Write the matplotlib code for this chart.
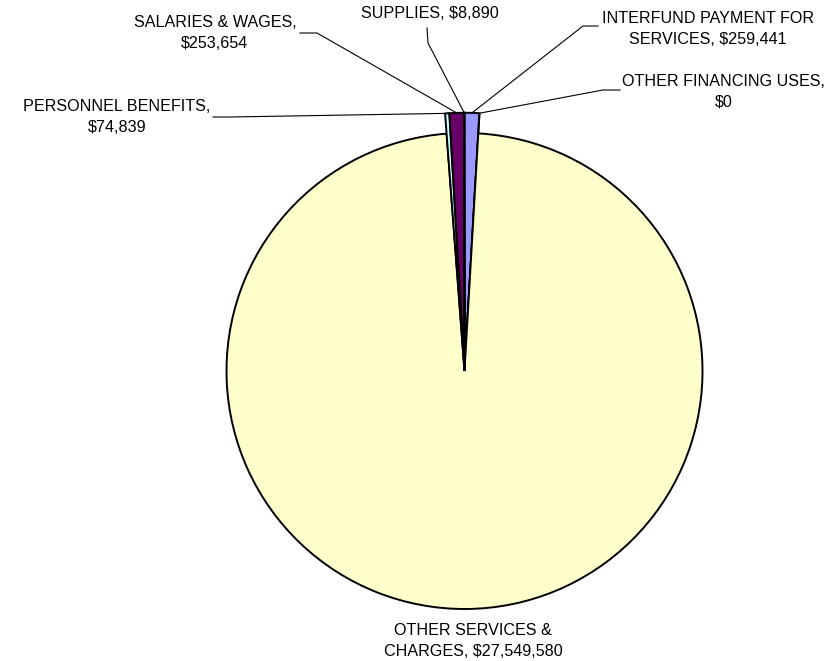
import matplotlib
matplotlib.use("Agg")
import matplotlib.pyplot as plt
import numpy as np

plt.rcParams['font.family'] = ['Liberation Sans', 'DejaVu Sans']

# Data (clockwise from 12 o'clock)
categories = ["INTERFUND PAYMENT FOR\nSERVICES", "OTHER FINANCING USES,\n", "OTHER SERVICES &\nCHARGES",
              "PERSONNEL BENEFITS,\n", "SALARIES & WAGES,\n", "SUPPLIES"]
values = [259441, 0, 27549580, 74839, 253654, 8890]
colors = ["#9999FF", "#993366", "#FFFFCC", "#CCFFFF", "#660066", "#FF8080"]

W, H = 836, 661
CX, CY, R = 464.5, 371, 238

def px(x, y):
    return ((x - CX) / R, (CY - y) / R)

fig = plt.figure(figsize=(W / 100, H / 100), dpi=100)
ax = fig.add_axes([0, 0, 1, 1])
wedges, _ = ax.pie(values, colors=colors, startangle=90, counterclock=False,
                   wedgeprops=dict(edgecolor="black", linewidth=1.4))
big = int(np.argmax(values))
for i, w in enumerate(wedges):
    if i != big:
        w.set_radius(1.085)

ax.set_xlim(-CX / R, (W - CX) / R)
ax.set_ylim(-(H - CY) / R, CY / R)
ax.set_aspect('equal')
ax.axis('off')

def money(v):
    return "${:,}".format(v)

label_text = [
    "INTERFUND PAYMENT FOR\nSERVICES, " + money(values[0]),
    "OTHER FINANCING USES,\n" + money(values[1]),
    "OTHER SERVICES &\nCHARGES, " + money(values[2]),
    "PERSONNEL BENEFITS,\n" + money(values[3]),
    "SALARIES & WAGES,\n" + money(values[4]),
    "SUPPLIES, " + money(values[5]),
]
# text centers (px) and leader start / bend points (px)
text_pos = [(708, 29), (724, 92), (473, 641), (117, 117), (215, 33), (430, 13)]
leader = [((598, 26), (583, 26)), ((620, 90), (603, 90)), None,
          ((213, 117), (230, 117)), ((300, 33), (317, 33)), ((427, 28), (428, 43))]

for i, w in enumerate(wedges):
    ax.text(*px(*text_pos[i]), label_text[i], ha='center', va='center',
            fontsize=11.6, linespacing=1.45)
    if leader[i] is None:
        continue
    th = np.deg2rad((w.theta1 + w.theta2) / 2)
    r = w.r
    ex, ey = w.center[0] + r * np.cos(th), w.center[1] + r * np.sin(th)
    p0 = px(*leader[i][0])
    p1 = px(*leader[i][1])
    ax.plot([p0[0], p1[0], ex], [p0[1], p1[1], ey], color='black', lw=0.8)

fig.savefig("out.png", dpi=100)
